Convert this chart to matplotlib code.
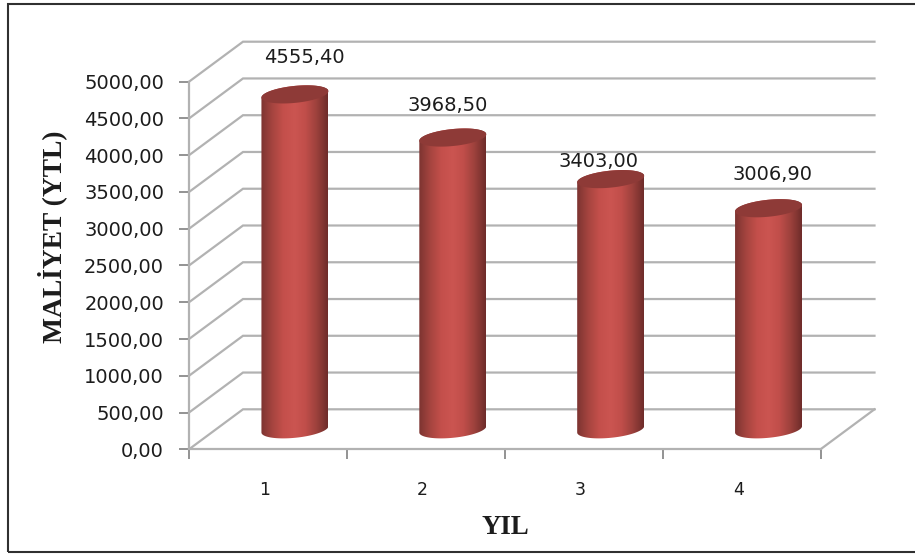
import numpy as np
import matplotlib
matplotlib.use('Agg')
import matplotlib.pyplot as plt
from matplotlib.colors import LinearSegmentedColormap
from matplotlib.patches import Polygon, Rectangle

# chart values
years = ['1', '2', '3', '4']
costs = [4555.40, 3968.50, 3403.00, 3006.90]
y_ticks = [0, 500, 1000, 1500, 2000, 2500, 3000, 3500, 4000, 4500, 5000]
# label nudges in pixels, the labels were placed by hand in the original
label_dx = [9, -5, -12, 4]
label_dy = [27, 23, 8, 24]

W, H = 915, 554
X0, X1 = 189, 820.5
Y0, Y1 = 449.3, 81.7

fig = plt.figure(figsize=(W / 100, H / 100), dpi=100, facecolor='white')
ax = fig.add_axes([X0 / W, 1 - Y0 / H, (X1 - X0) / W, (Y0 - Y1) / H])
ax.set_xlim(0, 4)
ax.set_ylim(0, 5000)
ax.patch.set_alpha(0)

px_x = (X1 - X0) / 4
px_y = (Y0 - Y1) / 5000
depth_x = 54 / px_x
depth_y = 40 / px_y
grid = '#b2b2b2'

# outer frame, runs off the right side of the picture
fig.add_artist(Rectangle((8 / W, 2 / H), 1.0, 1 - 6 / H, transform=fig.transFigure,
                         fill=False, edgecolor='#303030', linewidth=1.5))

# back wall and floor
for v in y_ticks:
    ax.plot([0, depth_x, 4 + depth_x], [v, v + depth_y, v + depth_y],
            color=grid, lw=1.6, clip_on=False, zorder=1, solid_joinstyle='miter')
ax.plot([4, 4 + depth_x], [0, depth_y], color=grid, lw=1.6, clip_on=False, zorder=1)

# cylinders
cmap = LinearSegmentedColormap.from_list(
    'cyl', ['#7c3431', '#a5443f', '#c44f4b', '#cb5551', '#c04e4a', '#9c413c', '#6e2c2a'])
shade = np.linspace(0, 1, 256).reshape(1, -1)
a = 33.5 / px_x
b = 8.5 / px_y
tilt = 3.2 / px_y  # ellipse rises to the right
t = np.linspace(0, np.pi, 80)

for i, val in enumerate(costs):
    cx = i + 0.5 + depth_x / 2
    base = depth_y / 2
    top = base + val
    low_x = cx - a * np.cos(t)
    low_y = base - tilt * np.cos(t) - b * np.sin(t)
    up_x = cx + a * np.cos(t)
    up_y = top + tilt * np.cos(t) + b * np.sin(t)
    body = Polygon(np.column_stack([np.r_[low_x, up_x], np.r_[low_y, up_y]]),
                   closed=True, transform=ax.transData, facecolor='none', edgecolor='none')
    ax.add_patch(body)
    im = ax.imshow(shade, cmap=cmap, aspect='auto', zorder=3, interpolation='bilinear',
                   extent=[cx - a, cx + a, base - b - tilt, top + b + tilt])
    im.set_clip_path(body)
    cap_x = np.r_[cx + a * np.cos(t), cx - a * np.cos(t)]
    cap_y = np.r_[top + tilt * np.cos(t) + b * np.sin(t), top - tilt * np.cos(t) - b * np.sin(t)]
    ax.add_patch(Polygon(np.column_stack([cap_x, cap_y]), closed=True, facecolor='#8e3a37',
                         edgecolor='none', zorder=4, clip_on=False))
    ax.annotate(f'{val:.2f}'.replace('.', ','), xy=(cx, top), xytext=(label_dx[i] * 0.72, label_dy[i] * 0.72),
                textcoords='offset points', ha='center', va='bottom', fontsize=14,
                color='#1c1c1c', zorder=5, annotation_clip=False)

ax.set_xlim(0, 4)
ax.set_ylim(0, 5000)

for s in ['top', 'right']:
    ax.spines[s].set_visible(False)
for s in ['left', 'bottom']:
    ax.spines[s].set_color(grid)
    ax.spines[s].set_linewidth(1.6)

ax.set_yticks(y_ticks)
ax.set_yticklabels([f'{v:.2f}'.replace('.', ',') for v in y_ticks], fontsize=14, color='#1c1c1c')
ax.set_xticks(range(5))
ax.set_xticklabels([])
ax.set_xticks(np.arange(4) + 0.48, labels=years, minor=True, fontsize=12.5, color='#1c1c1c')
ax.tick_params(axis='y', length=7, width=1.3, color='#8a8a8a', pad=11)
ax.tick_params(axis='x', which='major', length=7.5, width=1.3, color='#8a8a8a')
ax.tick_params(axis='x', which='minor', length=0, pad=22.5)

fig.text(52 / W, 1 - 236.5 / H, 'MALİYET (YTL)', rotation=90, ha='center', va='center',
         family='Liberation Serif', fontweight='bold', fontsize=19.8, color='#1c1c1c')
fig.text(505 / W, 1 - 527 / H, 'YIL', ha='center', va='center',
         family='Liberation Serif', fontweight='bold', fontsize=19.3, color='#1c1c1c')

fig.savefig('out.png', dpi=100)
